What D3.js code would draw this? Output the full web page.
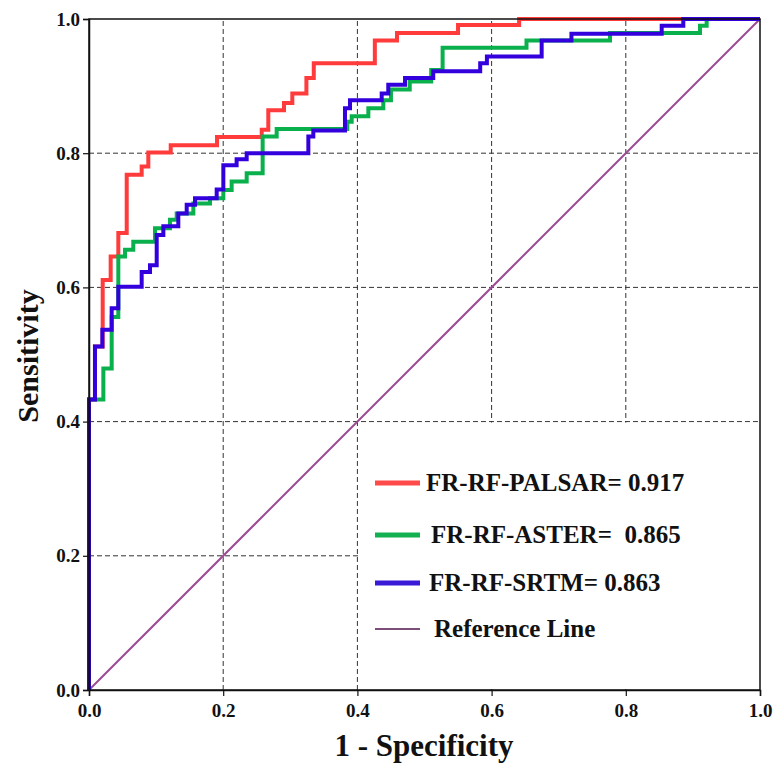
<!DOCTYPE html>
<html>
<head>
<meta charset="utf-8">
<script src="https://cdn.jsdelivr.net/npm/d3@7"></script>
<style>
  body { margin: 0; background: #fff; }
  text { font-family: "Liberation Serif", "Times New Roman", serif; font-weight: bold; }
</style>
</head>
<body>
<div id="chart"></div>
<script>
// ROC step points (fpr, tpr)
var palsarFpr = [0, 0, 0.0089, 0.0204, 0.0323, 0.0437, 0.0562, 0.0785, 0.0884, 0.1218, 0.1908, 0.2574, 0.2672, 0.2906, 0.303, 0.324, 0.335, 0.426, 0.459, 0.55, 0.641, 1];
var palsarTpr = [0, 0.433, 0.512, 0.611, 0.646, 0.681, 0.768, 0.780, 0.801, 0.812, 0.824, 0.835, 0.864, 0.875, 0.889, 0.912, 0.934, 0.968, 0.979, 0.991, 1, 1];

var asterFpr = [0, 0, 0.0214, 0.0338, 0.0437, 0.0537, 0.066, 0.0984, 0.1207, 0.1307, 0.1555, 0.1803, 0.2002, 0.2126, 0.235, 0.2588, 0.2797, 0.385, 0.3915, 0.4163, 0.4386, 0.45, 0.478, 0.51, 0.527, 0.652, 0.7765, 0.9106, 0.9205, 1];
var asterTpr = [0, 0.433, 0.479, 0.556, 0.646, 0.656, 0.668, 0.688, 0.701, 0.710, 0.725, 0.733, 0.745, 0.758, 0.770, 0.825, 0.836, 0.847, 0.855, 0.867, 0.879, 0.895, 0.907, 0.924, 0.957, 0.968, 0.979, 0.990, 1, 1];

var srtmFpr = [0, 0, 0.0089, 0.0199, 0.0338, 0.0437, 0.0785, 0.0909, 0.1009, 0.1108, 0.1331, 0.1456, 0.158, 0.1903, 0.2002, 0.22, 0.235, 0.3269, 0.3343, 0.3815, 0.389, 0.4362, 0.446, 0.471, 0.513, 0.583, 0.593, 0.6746, 0.719, 0.8535, 0.8857, 1];
var srtmTpr = [0, 0.433, 0.512, 0.537, 0.569, 0.601, 0.623, 0.633, 0.678, 0.691, 0.710, 0.723, 0.733, 0.746, 0.782, 0.791, 0.800, 0.825, 0.834, 0.867, 0.879, 0.889, 0.902, 0.912, 0.922, 0.934, 0.944, 0.968, 0.978, 0.990, 1, 1];

var refLine = [0, 1];
var ticks = [0, 0.2, 0.4, 0.6, 0.8, 1.0];
var legendNames = ['FR-RF-PALSAR= 0.917', 'FR-RF-ASTER=  0.865', 'FR-RF-SRTM= 0.863', 'Reference Line'];

var W = 773, H = 769;
var margin = { left: 89, top: 19, right: 13, bottom: 79 };
var pw = W - margin.left - margin.right;
var ph = H - margin.top - margin.bottom;

var svg = d3.select('#chart').append('svg')
  .attr('width', W)
  .attr('height', H);

var g = svg.append('g')
  .attr('transform', 'translate(' + margin.left + ',' + margin.top + ')');

var x = d3.scaleLinear().domain([0, 1]).range([0, pw]);
var y = d3.scaleLinear().domain([0, 1]).range([ph, 0]);

// grid
var inner = ticks.filter(d => d > 0 && d < 1);
g.selectAll('.vgrid').data(inner).enter().append('line')
  .attr('x1', d => x(d)).attr('x2', d => x(d))
  .attr('y1', y(0)).attr('y2', y(1))
  .attr('stroke', '#333').attr('stroke-width', 1).attr('stroke-dasharray', '5,3');
g.selectAll('.hgrid').data(inner).enter().append('line')
  .attr('x1', x(0)).attr('x2', x(1))
  .attr('y1', d => y(d)).attr('y2', d => y(d))
  .attr('stroke', '#333').attr('stroke-width', 1).attr('stroke-dasharray', '5,3');

// legend box covers the grid in the lower right
g.append('rect')
  .attr('x', x(0.4) + 1).attr('y', y(0.4) + 1)
  .attr('width', x(1) - x(0.4) - 2).attr('height', y(0) - y(0.4) - 2)
  .attr('fill', '#fff');

// reference diagonal
g.append('line')
  .attr('x1', x(refLine[0])).attr('y1', y(refLine[0]))
  .attr('x2', x(refLine[1])).attr('y2', y(refLine[1]))
  .attr('stroke', '#9b4a94').attr('stroke-width', 2);

var line = d3.line()
  .x(d => x(d[0]))
  .y(d => y(d[1]))
  .curve(d3.curveStepAfter);

var series = [
  { fpr: palsarFpr, tpr: palsarTpr, color: '#ff3b3b' },
  { fpr: asterFpr, tpr: asterTpr, color: '#0ab04c' },
  { fpr: srtmFpr, tpr: srtmTpr, color: '#3300dd' }
];

series.forEach(s => {
  g.append('path')
    .datum(d3.zip(s.fpr, s.tpr))
    .attr('fill', 'none')
    .attr('stroke', s.color)
    .attr('stroke-width', 4)
    .attr('stroke-linejoin', 'miter')
    .attr('d', line);
});

// frame
g.append('rect')
  .attr('width', pw).attr('height', ph)
  .attr('fill', 'none').attr('stroke', '#111').attr('stroke-width', 1.5);

// axes
var fmt = d3.format('.1f');
var xAxis = g.append('g')
  .attr('transform', 'translate(0,' + ph + ')')
  .call(d3.axisBottom(x).tickValues(ticks).tickFormat(fmt).tickSize(6).tickPadding(8));
var yAxis = g.append('g')
  .call(d3.axisLeft(y).tickValues(ticks).tickFormat(fmt).tickSize(6).tickPadding(3));
[xAxis, yAxis].forEach(a => {
  a.select('.domain').attr('stroke', '#111').attr('stroke-width', 1.5);
  a.selectAll('.tick line').attr('stroke', '#111').attr('stroke-width', 1.2);
  a.selectAll('.tick text')
    .style('font-family', '"Liberation Serif", serif')
    .style('font-weight', 'bold')
    .style('font-size', '19px')
    .attr('fill', '#111');
});

// axis titles
svg.append('text')
  .attr('x', 424).attr('y', 756)
  .attr('text-anchor', 'middle')
  .style('font-size', '31px')
  .attr('fill', '#111')
  .text('1 - Specificity');

svg.append('text')
  .attr('transform', 'translate(38,356) rotate(-90)')
  .attr('text-anchor', 'middle')
  .style('font-size', '30px')
  .attr('fill', '#111')
  .text('Sensitivity');

// legend
var legColors = ['#ff4a4a', '#12b050', '#3a1ad6', '#7d4d7a'];
var legWidths = [5, 5, 5, 2];
var legY = [483, 535, 583, 629];
var legTextX = [426, 431, 429, 434];

var legend = svg.selectAll('.legendCells')
  .data(legendNames)
  .enter().append('g')
  .attr('class', 'legendCells')
  .attr('transform', (d, i) => 'translate(0,' + legY[i] + ')');

legend.append('line')
  .attr('x1', 375).attr('x2', 420)
  .attr('stroke', (d, i) => legColors[i])
  .attr('stroke-width', (d, i) => legWidths[i]);

legend.append('text')
  .attr('x', (d, i) => legTextX[i])
  .attr('y', 8)
  .style('font-size', '25px')
  .style('white-space', 'pre')
  .attr('xml:space', 'preserve')
  .attr('fill', '#111')
  .text(d => d);
</script>
</body>
</html>
